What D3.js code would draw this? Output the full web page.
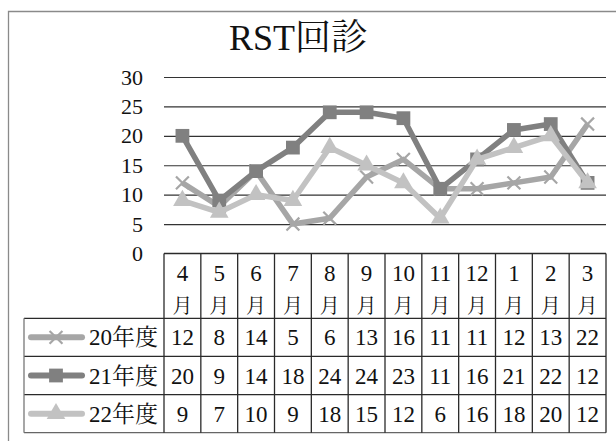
<!DOCTYPE html>
<html>
<head>
<meta charset="utf-8">
<script src="https://cdn.jsdelivr.net/npm/d3@7"></script>
</head>
<body style="margin:0; background:#fff">
<svg id="chart" width="616" height="441"></svg>
<script>
let months = ["4", "5", "6", "7", "8", "9", "10", "11", "12", "1", "2", "3"]
let seriesNames = ["20年度", "21年度", "22年度"]
let s20 = [12, 8, 14, 5, 6, 13, 16, 11, 11, 12, 13, 22]
let s21 = [20, 9, 14, 18, 24, 24, 23, 11, 16, 21, 22, 12]
let s22 = [9, 7, 10, 9, 18, 15, 12, 6, 16, 18, 20, 12]
let yTicks = [0, 5, 10, 15, 20, 25, 30]

let series = [
    { name: seriesNames[0], values: s20, color: "#a6a6a6", marker: "x" },
    { name: seriesNames[1], values: s21, color: "#808080", marker: "square" },
    { name: seriesNames[2], values: s22, color: "#c2c2c2", marker: "triangle" }
]

let LATIN = "'Liberation Serif'"
let CJK = "'Noto Serif CJK JP'"

let svg = d3.select("#chart")

// split a label into latin / CJK runs, each in its own tspan
let mixed = (sel, str) => {
    let runs = str.match(/[\x00-\x7f]+|[^\x00-\x7f]+/g) || []
    sel.attr("fill", "#111")
    runs.forEach(r => {
        sel.append("tspan")
            .style("font-family", /[^\x00-\x7f]/.test(r) ? CJK : LATIN)
            .text(r)
    })
}

// outer chart frame (cut off at right and bottom like the scan)
svg.append("path")
    .attr("d", "M8.5,441 L8.5,11.5 L616,11.5")
    .attr("fill", "none")
    .attr("stroke", "#8a8a8a")
    .attr("stroke-width", 1.3)

svg.append("text")
    .attr("x", 298)
    .attr("y", 50)
    .attr("text-anchor", "middle")
    .attr("font-size", 36)
    .call(mixed, "RST回診")

let x = d3.scaleBand().domain(months).range([164, 606])
let y = d3.scaleLinear().domain([0, 30]).range([253.5, 77])

// gridlines + y labels
let yAxis = d3.axisLeft(y)
    .tickValues(yTicks)
    .tickSize(-(606 - 164))
    .tickPadding(21)
    .tickFormat(d3.format("d"))

let ya = svg.append("g")
    .attr("transform", "translate(164,0)")
    .call(yAxis)
    .attr("font-family", "Liberation Serif")
ya.select(".domain").remove()
ya.selectAll(".tick line")
    .attr("stroke", "#333")
    .attr("stroke-width", 1.2)
    .filter(d => d === 0).remove()
ya.selectAll(".tick text")
    .attr("font-size", 22)
    .attr("fill", "#111")
    .style("font-family", LATIN)

// lines
let line = d3.line()
    .x((d, i) => x(months[i]) + x.bandwidth() / 2)
    .y(d => y(d))

let markerPath = (m) => {
    if (m === "x") return d3.symbol(d3.symbolX, 110)()
    if (m === "square") return d3.symbol(d3.symbolSquare, 190)()
    return d3.symbol(d3.symbolTriangle, 150)()
}

let drawMarker = (g, s) => {
    let p = g.append("path").attr("d", markerPath(s.marker))
    if (s.marker === "x") {
        p.attr("fill", "none").attr("stroke", s.color).attr("stroke-width", 2.2)
    } else {
        p.attr("fill", s.color)
    }
}

series.forEach(s => {
    svg.append("path")
        .datum(s.values)
        .attr("d", line)
        .attr("fill", "none")
        .attr("stroke", s.color)
        .attr("stroke-width", 5.5)
        .attr("stroke-linejoin", "round")

    svg.selectAll(null)
        .data(s.values)
        .enter()
        .append("g")
        .attr("transform", (d, i) => "translate(" + (x(months[i]) + x.bandwidth() / 2) + "," + y(d) + ")")
        .each(function () { drawMarker(d3.select(this), s) })
})

// data table
let headTop = 253.5
let headBottom = 318.3
let rows = d3.scaleBand().domain(seriesNames).range([headBottom, 432.7])
let tableLeft = 24

let grid = svg.append("g").attr("stroke", "#2a2a2a").attr("stroke-width", 1.3)

// top of header row
grid.append("line").attr("x1", 164).attr("x2", 606).attr("y1", headTop).attr("y2", headTop)
// row lines
seriesNames.forEach(n => {
    grid.append("line")
        .attr("x1", tableLeft).attr("x2", 606)
        .attr("y1", rows(n)).attr("y2", rows(n))
})
grid.append("line")
    .attr("x1", tableLeft).attr("x2", 606)
    .attr("y1", 432.7).attr("y2", 432.7)
    .attr("stroke", "#666")
// column lines
months.forEach(m => {
    grid.append("line")
        .attr("x1", x(m)).attr("x2", x(m))
        .attr("y1", headTop).attr("y2", 432.7)
})
grid.append("line")
    .attr("x1", 606).attr("x2", 606)
    .attr("y1", headTop).attr("y2", 432.7)
grid.append("line")
    .attr("x1", tableLeft).attr("x2", tableLeft)
    .attr("y1", headBottom).attr("y2", 432.7)
    .attr("stroke", "#777")

// header: month numbers + 月
months.forEach(m => {
    let cx = x(m) + x.bandwidth() / 2
    svg.append("text")
        .attr("x", cx).attr("y", 281)
        .attr("text-anchor", "middle")
        .attr("font-size", 23)
        .call(mixed, m)
    svg.append("text")
        .attr("x", cx).attr("y", 313)
        .attr("text-anchor", "middle")
        .attr("font-size", 20)
        .call(mixed, "月")
})

// rows with legend keys and values
series.forEach(s => {
    let top = rows(s.name)
    let mid = top + rows.bandwidth() / 2

    svg.append("line")
        .attr("x1", 31).attr("x2", 82)
        .attr("y1", mid).attr("y2", mid)
        .attr("stroke", s.color)
        .attr("stroke-width", 6)
        .attr("stroke-linecap", "round")
    let k = svg.append("g").attr("transform", "translate(56," + mid + ")")
    drawMarker(k, s)

    svg.append("text")
        .attr("x", 158).attr("y", mid + 8)
        .attr("text-anchor", "end")
        .attr("font-size", 23)
        .call(mixed, s.name)

    svg.selectAll(null)
        .data(s.values)
        .enter()
        .append("text")
        .attr("x", (d, i) => x(months[i]) + x.bandwidth() / 2)
        .attr("y", mid + 8)
        .attr("text-anchor", "middle")
        .attr("font-size", 23)
        .each(function (d) { mixed(d3.select(this), String(d)) })
})
</script>
</body>
</html>
